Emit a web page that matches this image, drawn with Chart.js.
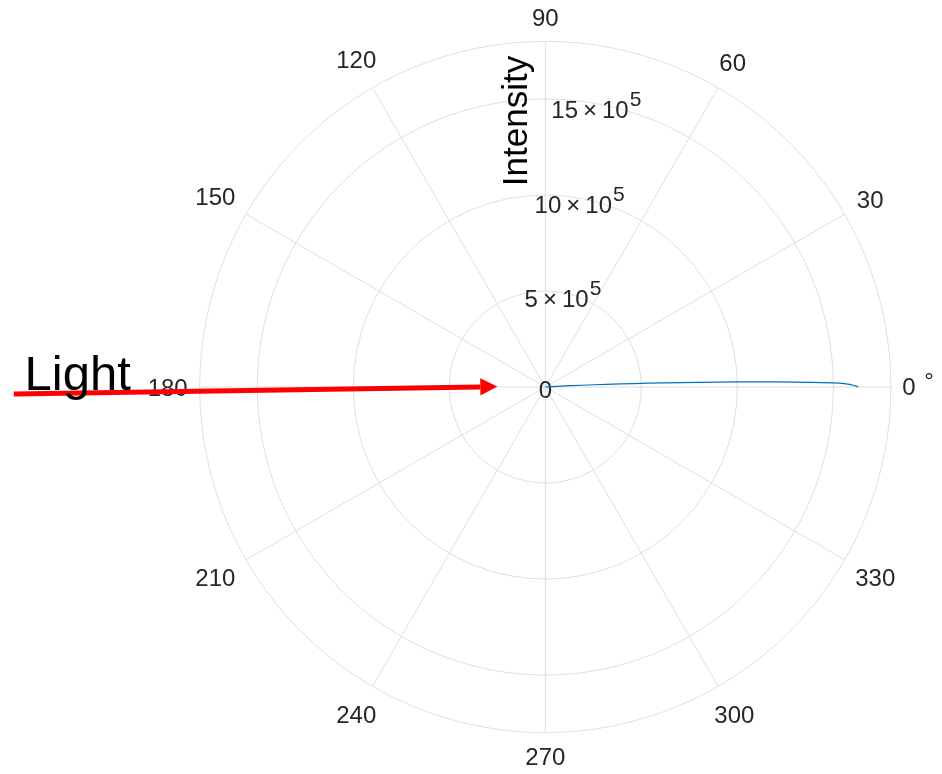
<!DOCTYPE html>
<html>
<head>
<meta charset="utf-8">
<script src="https://cdn.jsdelivr.net/npm/chart.js@4/dist/chart.umd.min.js"></script>
<style>
  html, body { margin: 0; padding: 0; background: #fff; }
  #wrap { width: 942px; height: 774px; }
</style>
</head>
<body>
<div id="wrap"><canvas id="polarChart" width="942" height="774"></canvas></div>
<script>
// measured curve: angle (degrees) and intensity
const angleDeg = [0, 0.1, 0.25, 0.5, 0.75, 1.0, 1.25, 1.5, 1.75, 2.0, 2.25, 2.5, 2.75, 3.0, 3.25];
const intensity = [16.3e5, 16.25e5, 16.1e5, 15.85e5, 15.3e5, 13.9e5, 12.0e5, 10.0e5, 8.0e5, 6.2e5, 4.6e5, 3.2e5, 1.9e5, 0.8e5, 0];

// polar axes
const ringValues = [5e5, 10e5, 15e5];
const ringMantissa = ['5', '10', '15'];
const ringExponent = '5';
const rMax = 18e5;
const thetaTicks = [0, 30, 60, 90, 120, 150, 180, 210, 240, 270, 300, 330];
const thetaLabels = ['0', '30', '60', '90', '120', '150', '180', '210', '240', '270', '300', '330'];

const FONT = '"Liberation Sans", Arial, Helvetica, sans-serif';
const TEXT = '#262626';
const GRID = '#dfdfdf';

const points = angleDeg.map((a, i) => ({
    x: intensity[i] * Math.cos(a * Math.PI / 180),
    y: intensity[i] * Math.sin(a * Math.PI / 180)
}));

const polarGrid = {
    id: 'polarGrid',
    beforeDatasetsDraw(chart) {
        const ctx = chart.ctx;
        const xs = chart.scales.x, ys = chart.scales.y;
        const cx = xs.getPixelForValue(0), cy = ys.getPixelForValue(0);
        const pr = v => xs.getPixelForValue(v) - cx;
        ctx.save();
        ctx.strokeStyle = GRID;
        ctx.lineWidth = 1;
        ringValues.concat([rMax]).forEach(v => {
            ctx.beginPath();
            ctx.arc(cx, cy, pr(v), 0, Math.PI * 2);
            ctx.stroke();
        });
        thetaTicks.forEach(t => {
            const a = t * Math.PI / 180;
            ctx.beginPath();
            ctx.moveTo(cx, cy);
            ctx.lineTo(cx + pr(rMax) * Math.cos(a), cy - pr(rMax) * Math.sin(a));
            ctx.stroke();
        });

        // angle labels, pushed out by their half box
        ctx.fillStyle = TEXT;
        ctx.font = '24px ' + FONT;
        ctx.textBaseline = 'middle';
        ctx.textAlign = 'center';
        thetaTicks.forEach((t, i) => {
            const a = t * Math.PI / 180;
            const hw = (t === 0 ? 30 : ctx.measureText(thetaLabels[i]).width) / 2;
            const lr = pr(rMax) + 12 + hw * Math.abs(Math.cos(a)) + 12 * Math.abs(Math.sin(a));
            const x = cx + lr * Math.cos(a), y = cy - lr * Math.sin(a);
            if (t === 0) {
                ctx.fillText('0', x - 9, y + 1);
                ctx.fillText('\u00b0', x + 11, y - 5);
            } else {
                ctx.fillText(thetaLabels[i], x, y + 2);
            }
        });

        // radial tick labels along 80 degrees
        ctx.textBaseline = 'alphabetic';
        ctx.textAlign = 'left';
        const ra = 80 * Math.PI / 180;
        ringValues.forEach((v, i) => {
            const x = cx + pr(v) * Math.cos(ra) + 1;
            const y = cy - pr(v) * Math.sin(ra) + 15;
            ctx.font = '24px ' + FONT;
            const g = 5;
            const w1 = ctx.measureText(ringMantissa[i]).width;
            const w2 = ctx.measureText('\u00d7').width;
            const w3 = ctx.measureText('10').width;
            ctx.font = '21px ' + FONT;
            const w4 = ctx.measureText(ringExponent).width;
            let px = x - (w1 + g + w2 + g + w3 + 1 + w4) / 2;
            ctx.font = '24px ' + FONT;
            ctx.fillText(ringMantissa[i], px, y); px += w1 + g;
            ctx.fillText('\u00d7', px, y); px += w2 + g;
            ctx.fillText('10', px, y); px += w3 + 1;
            ctx.font = '21px ' + FONT;
            ctx.fillText(ringExponent, px, y - 12);
        });
        ctx.font = '24px ' + FONT;
        ctx.textAlign = 'center';
        ctx.fillText('0', cx, cy + 11);

        // radial axis title
        ctx.save();
        ctx.translate(cx - 28, cy - 266);
        ctx.rotate(-Math.PI / 2);
        ctx.fillStyle = '#000';
        ctx.font = '35px ' + FONT;
        ctx.textAlign = 'center';
        ctx.textBaseline = 'middle';
        ctx.fillText('Intensity', 0, 0);
        ctx.restore();
        ctx.restore();
    },
    afterDatasetsDraw(chart) {
        const ctx = chart.ctx;
        const xs = chart.scales.x, ys = chart.scales.y;
        const p = (x, y) => [xs.getPixelForValue(x), ys.getPixelForValue(y)];
        const [x0, y0] = p(-27.68e5, -0.37e5);
        const [x1, y1] = p(-2.5e5, 0.02e5);
        const ang = Math.atan2(y1 - y0, x1 - x0);
        const hl = 17, hw = 8.7;
        const bx = x1 - hl * Math.cos(ang), by = y1 - hl * Math.sin(ang);
        ctx.save();
        ctx.strokeStyle = '#ff0000';
        ctx.fillStyle = '#ff0000';
        ctx.lineWidth = 5;
        ctx.beginPath();
        ctx.moveTo(x0, y0);
        ctx.lineTo(bx, by);
        ctx.stroke();
        ctx.beginPath();
        ctx.moveTo(x1, y1);
        ctx.lineTo(bx - hw * Math.sin(ang), by + hw * Math.cos(ang));
        ctx.lineTo(bx + hw * Math.sin(ang), by - hw * Math.cos(ang));
        ctx.closePath();
        ctx.fill();

        const [tx, ty] = p(-27.12e5, -0.16e5);
        ctx.fillStyle = '#000';
        ctx.font = '49px ' + FONT;
        ctx.textAlign = 'left';
        ctx.textBaseline = 'alphabetic';
        ctx.fillText('Light', tx, ty);
        ctx.restore();
    }
};

new Chart(document.getElementById('polarChart').getContext('2d'), {
    type: 'scatter',
    data: {
        datasets: [{
            label: 'Intensity',
            data: points,
            showLine: true,
            borderColor: '#0072BD',
            backgroundColor: '#0072BD',
            borderWidth: 1.2,
            pointRadius: 0,
            tension: 0.3
        }]
    },
    options: {
        responsive: false,
        animation: false,
        devicePixelRatio: 1,
        layout: { padding: 0 },
        plugins: {
            legend: { display: false },
            tooltip: { enabled: false }
        },
        scales: {
            x: { type: 'linear', display: false, min: -28.4e5, max: 20.66e5 },
            y: { type: 'linear', display: false, min: -20.16e5, max: 20.16e5 }
        }
    },
    plugins: [polarGrid]
});
</script>
</body>
</html>
